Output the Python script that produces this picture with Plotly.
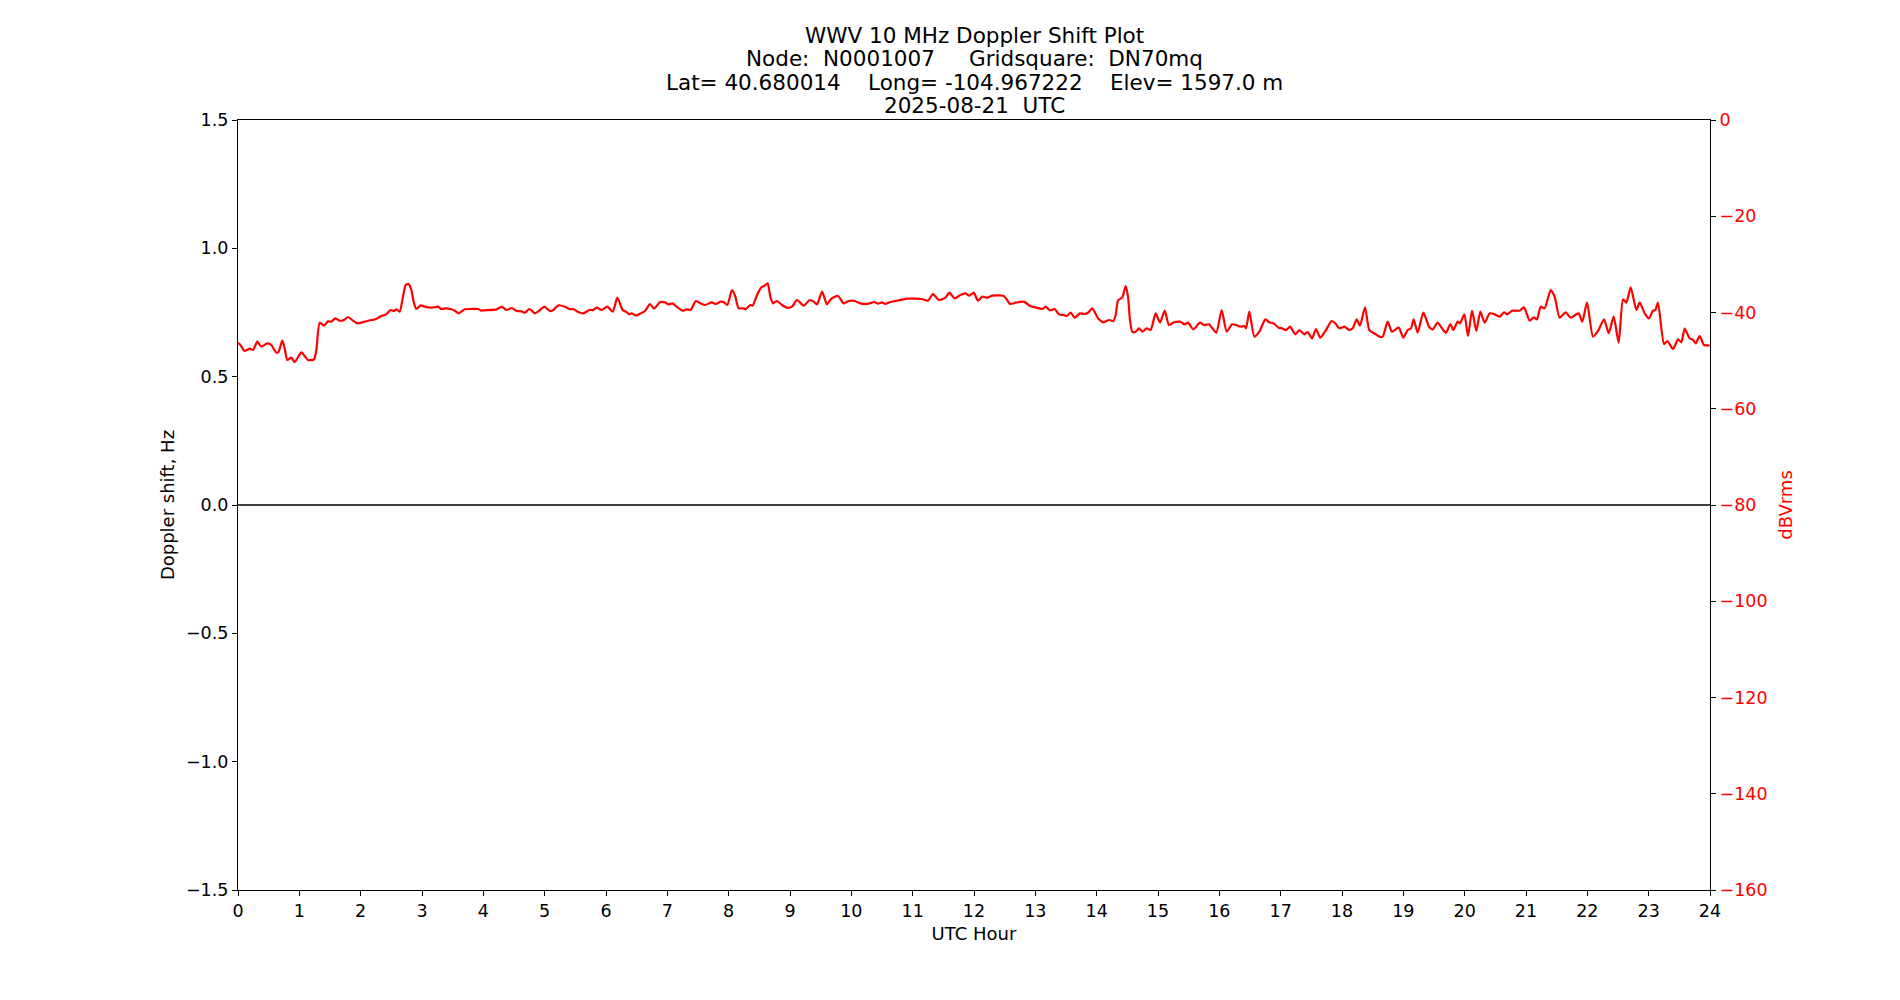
import plotly.graph_objects as go

# signal level (dBVrms)
hours = [
    0.0, 0.027, 0.109, 0.190, 0.245, 0.315, 0.380, 0.478, 0.543, 0.625, 0.663, 0.723, 0.761, 0.804,
    0.870, 0.924, 1.033, 1.087, 1.141, 1.239, 1.277, 1.332, 1.402, 1.467, 1.522, 1.587, 1.658,
    1.728, 1.793, 1.875, 1.946, 2.065, 2.174, 2.239, 2.337, 2.418, 2.489, 2.543, 2.582, 2.636,
    2.690, 2.734, 2.783, 2.826, 2.870, 2.908, 2.978, 3.043, 3.152, 3.261, 3.315, 3.397, 3.478,
    3.533, 3.598, 3.696, 3.804, 3.913, 3.967,
    4.000, 4.217, 4.299, 4.380, 4.462, 4.543, 4.625, 4.679, 4.750, 4.842, 4.924, 4.995, 5.087,
    5.141, 5.223, 5.332, 5.402, 5.478, 5.549, 5.630, 5.728, 5.793, 5.848, 5.929, 6.022, 6.109,
    6.185, 6.272, 6.326, 6.380, 6.418, 6.489, 6.554, 6.636, 6.717, 6.783, 6.880, 6.962, 7.016,
    7.087, 7.152, 7.250, 7.315, 7.380, 7.462, 7.522, 7.614, 7.723, 7.793, 7.870, 7.924, 7.978,
    8.049, 8.065, 8.109, 8.163, 8.245, 8.272, 8.353, 8.391, 8.462, 8.533, 8.587, 8.636, 8.679,
    8.723, 8.788, 8.870, 8.951, 9.033, 9.114, 9.223, 9.321, 9.386, 9.440, 9.522, 9.603, 9.668,
    9.783, 9.875, 9.957, 10.054, 10.147, 10.283, 10.375, 10.435, 10.500, 10.554, 10.636, 10.717,
    10.826, 10.908, 11.043, 11.152, 11.250, 11.332, 11.424, 11.533, 11.598, 11.685, 11.777,
    11.859, 11.924, 11.995, 12.065, 12.136, 12.217, 12.299, 12.380, 12.478, 12.533, 12.587,
    12.679, 12.815, 12.913, 13.005, 13.114, 13.168, 13.239, 13.315, 13.386, 13.457, 13.511,
    13.576, 13.641, 13.728, 13.793, 13.859, 13.929, 14.022, 14.109, 14.201, 14.272, 14.310,
    14.348, 14.418, 14.473, 14.511, 14.543, 14.582, 14.636, 14.690, 14.745, 14.815, 14.880,
    14.962, 15.033, 15.109, 15.179, 15.261, 15.359, 15.435, 15.489, 15.576, 15.685, 15.750,
    15.832, 15.886, 15.951, 16.038, 16.120, 16.207, 16.272, 16.353, 16.408, 16.435, 16.489,
    16.571, 16.652, 16.750, 16.815, 16.880, 16.967, 17.022, 17.087, 17.152, 17.239, 17.304,
    17.386, 17.440, 17.511, 17.576, 17.647, 17.739, 17.832, 17.891, 17.957, 18.038, 18.120,
    18.174, 18.239, 18.293, 18.375, 18.446, 18.543, 18.609, 18.663, 18.745, 18.815, 18.924,
    19.000, 19.071, 19.125, 19.168, 19.234, 19.326, 19.424, 19.478, 19.560, 19.630, 19.696,
    19.766, 19.815, 19.886, 19.924, 19.995, 20.054, 20.120, 20.190, 20.255, 20.326, 20.408,
    20.489, 20.571, 20.641, 20.696, 20.772, 20.897, 20.967, 21.060, 21.125, 21.179, 21.239,
    21.304, 21.402, 21.467, 21.549, 21.647, 21.728, 21.804, 21.859, 21.918, 21.995, 22.092,
    22.174, 22.272, 22.348, 22.429, 22.511, 22.582, 22.636, 22.707, 22.799, 22.853, 22.935,
    23.005, 23.071, 23.109, 23.152, 23.250, 23.304, 23.397, 23.478, 23.533, 23.587, 23.668,
    23.723, 23.766, 23.832, 23.902, 23.995,
]
dbv = [
    -46.4, -46.55, -48.00, -47.51, -47.79, -46.06, -47.10, -46.41, -46.75, -48.35, -48.14, -45.85, -47.45, -49.87,
    -49.39, -50.29, -48.28, -49.04, -49.87, -49.73, -47.79, -42.11, -42.74, -41.84, -41.91, -41.21, -41.70,
    -41.56, -40.94, -41.70, -42.25, -41.91, -41.56, -41.42, -40.73, -40.38, -39.48, -39.69, -39.34, -39.83,
    -36.71, -34.29, -34.08, -35.33, -38.10, -39.27, -38.51, -38.79, -39.00, -38.79, -39.27, -39.13, -39.34,
    -39.62, -40.17, -39.34, -39.27, -39.27, -39.62,
    -39.55, -39.34, -38.79, -39.48, -39.07, -39.69, -39.76, -40.04, -39.27, -40.17, -39.48, -38.79, -39.69,
    -39.48, -38.51, -38.79, -39.27, -39.34, -39.90, -40.17, -39.48, -39.48, -39.00, -39.48, -38.79, -39.83,
    -36.92, -39.48, -39.83, -40.38, -40.17, -40.66, -40.24, -39.69, -38.23, -39.20, -37.89, -37.89, -38.30,
    -38.10, -38.79, -39.62, -39.34, -39.48, -37.61, -37.96, -38.44, -37.89, -38.23, -37.75, -37.89, -38.44,
    -35.46, -35.46, -36.71, -39.13, -39.13, -39.34, -38.44, -38.58, -36.36, -34.77, -34.43, -33.94, -36.71,
    -38.10, -37.61, -38.44, -39.00, -38.79, -37.40, -38.58, -37.40, -37.75, -38.30, -35.67, -38.30, -37.20,
    -36.57, -38.10, -37.61, -37.61, -38.10, -38.17, -37.82, -38.17, -37.89, -38.23, -37.82, -37.61,
    -37.33, -37.13, -37.13, -37.20, -37.54, -36.16, -37.40, -36.92, -35.88, -37.06, -36.36,
    -36.02, -36.50, -35.88, -37.54, -36.71, -36.92, -36.50, -36.43, -36.50, -37.26, -38.23,
    -37.96, -37.75, -38.65, -38.93, -39.27, -38.79, -39.55, -39.27, -40.38, -40.52, -40.73,
    -40.04, -41.07, -40.17, -40.31, -40.04, -39.13, -41.21, -42.04, -41.56, -41.77, -40.52,
    -37.54, -36.85, -34.49, -36.71, -41.56, -44.05, -43.98, -43.29, -43.98, -43.29, -43.64,
    -40.17, -42.11, -39.62, -42.60, -42.04, -41.91, -42.46, -42.11, -43.50, -42.11, -42.60,
    -42.46, -43.29, -44.19, -39.48, -43.98, -42.46, -42.60, -42.94, -42.81, -43.29, -39.83,
    -45.02, -43.98, -41.42, -42.04, -42.25, -43.15, -43.29, -43.64, -42.94, -44.54, -43.64,
    -44.54, -44.05, -45.37, -43.43, -45.23, -43.64, -41.77, -42.25, -43.29, -42.94, -43.64,
    -43.29, -41.42, -42.74, -38.93, -43.64, -44.47, -45.02, -45.02, -41.91, -43.98, -43.15,
    -45.23, -43.64, -43.29, -41.42, -44.19, -40.04, -43.08, -43.50, -42.11, -43.29, -44.19,
    -42.39, -43.64, -41.91, -42.25, -40.38, -44.88, -39.62, -43.84, -39.83, -42.11, -40.17,
    -40.38, -40.87, -39.97, -40.38, -39.62, -39.62, -38.93, -41.70, -41.00, -41.42, -38.79,
    -39.13, -35.33, -36.71, -41.07, -39.97, -41.07, -40.52, -40.17, -41.91, -37.89, -45.02,
    -43.84, -41.42, -44.33, -40.87, -46.27, -37.26, -37.96, -34.77, -39.48, -37.89, -40.17,
    -41.21, -39.62, -39.48, -37.96, -46.55, -45.92, -47.58, -45.58, -46.20, -43.36, -45.37,
    -45.71, -46.41, -44.88, -46.75, -46.82,
]

# doppler shift (Hz) - flat at zero all day
doppler_hours = [0, 6, 12, 18, 24]
doppler_hz = [0.0, 0.0, 0.0, 0.0, 0.0]

title_lines = [
    "WWV 10 MHz Doppler Shift Plot",
    "Node:  N0001007     Gridsquare:  DN70mq",
    "Lat= 40.680014    Long= -104.967222    Elev= 1597.0 m",
    "2025-08-21  UTC",
]

font = "DejaVu Sans"

fig = go.Figure()

fig.add_trace(go.Scatter(
    x=doppler_hours, y=doppler_hz,
    mode="lines", line=dict(color="black", width=1.3),
    yaxis="y", showlegend=False,
))
fig.add_trace(go.Scatter(
    x=hours, y=dbv,
    mode="lines", line=dict(color="red", width=2.2, shape="spline", smoothing=0.6),
    yaxis="y2", showlegend=False,
))

# one annotation per title line so the line spacing matches the original
line_shift = [85, 61.5, 38, 15]
for txt, dy in zip(title_lines, line_shift):
    fig.add_annotation(
        text=txt,
        xref="paper", yref="paper", x=0.5, y=1,
        xanchor="center", yanchor="middle", yshift=dy,
        showarrow=False,
        font=dict(family=font, size=21.5, color="black"),
    )

fig.update_layout(
    width=1900, height=1000,
    margin=dict(l=229.5, r=198, t=112, b=118),
    plot_bgcolor="white", paper_bgcolor="white",
    font=dict(family=font, size=14.7, color="black"),
    xaxis=dict(
        range=[0, 24], dtick=1, tick0=0,
        showline=True, linecolor="black", linewidth=1.1, mirror=True,
        ticks="outside", ticklen=5, tickwidth=1.1, tickcolor="black",
        tickfont=dict(size=17.5),
        showgrid=False, zeroline=False,
        title=dict(text="UTC Hour", standoff=7),
    ),
    yaxis=dict(
        range=[-1.5, 1.5], dtick=0.5, tick0=0, tickformat=".1f",
        showline=True, linecolor="black", linewidth=1.1,
        ticks="outside", ticklen=5, tickwidth=1.1, tickcolor="black",
        tickfont=dict(size=17.5),
        showgrid=False, zeroline=False,
        title=dict(text="Doppler shift, Hz", standoff=6),
    ),
    yaxis2=dict(
        range=[-160, 0], dtick=20, tick0=0,
        overlaying="y", side="right",
        showline=True, linecolor="black", linewidth=1.1,
        ticks="outside", ticklen=5, tickwidth=1.1, tickcolor="black",
        tickfont=dict(size=17.5, color="red"),
        showgrid=False, zeroline=False,
        title=dict(text="dBVrms", font=dict(color="red"), standoff=12),
    ),
)

fig.write_html("out.html")
